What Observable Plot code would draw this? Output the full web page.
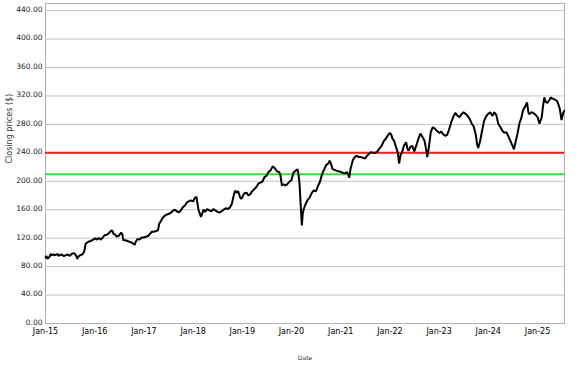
<!DOCTYPE html>
<html>
<head>
<meta charset="utf-8">
<script src="https://cdn.jsdelivr.net/npm/d3@7"></script>
<script src="https://cdn.jsdelivr.net/npm/@observablehq/plot@0.6"></script>
<style>
  html, body { margin: 0; padding: 0; background: #fff; }
  #chart { width: 577px; height: 367px; }
</style>
</head>
<body>
<div id="chart"></div>
<script>
// Closing price series (dates and values)
const dates = [
  "2015-01-02","2015-01-09","2015-01-15","2015-02-01","2015-02-08","2015-02-15","2015-03-01","2015-03-15","2015-04-01","2015-04-08","2015-04-15","2015-05-01","2015-05-15","2015-06-01","2015-06-15","2015-07-01","2015-07-15","2015-08-01","2015-08-15","2015-08-25","2015-09-01","2015-09-15","2015-10-01","2015-10-15","2015-10-26","2015-11-01","2015-11-15","2015-12-01","2015-12-15",
  "2016-01-04","2016-01-15","2016-02-01","2016-02-15","2016-03-01","2016-03-15","2016-04-01","2016-04-15","2016-05-01","2016-05-10","2016-05-20","2016-06-01","2016-06-15","2016-07-01","2016-07-15","2016-07-25","2016-08-01","2016-08-15","2016-09-01","2016-09-15","2016-10-01","2016-10-15","2016-10-25","2016-11-01","2016-11-15","2016-12-01","2016-12-15",
  "2017-01-03","2017-01-15","2017-02-01","2017-02-15","2017-03-01","2017-03-15","2017-04-01","2017-04-15","2017-04-25","2017-05-01","2017-05-15","2017-06-01","2017-06-15","2017-07-01","2017-07-15","2017-08-01","2017-08-15","2017-09-01","2017-09-15","2017-10-01","2017-10-15","2017-11-01","2017-11-15","2017-12-01","2017-12-15",
  "2018-01-02","2018-01-15","2018-01-26","2018-02-05","2018-02-10","2018-02-28","2018-03-10","2018-03-20","2018-04-01","2018-04-15","2018-05-01","2018-05-15","2018-06-01","2018-06-15","2018-07-01","2018-07-15","2018-08-01","2018-08-15","2018-09-01","2018-09-15","2018-10-01","2018-10-15","2018-11-01","2018-11-10","2018-11-20","2018-12-01","2018-12-15","2018-12-24",
  "2019-01-02","2019-01-15","2019-02-01","2019-02-15","2019-03-01","2019-03-15","2019-04-01","2019-04-15","2019-05-01","2019-05-15","2019-06-01","2019-06-15","2019-07-01","2019-07-15","2019-08-01","2019-08-15","2019-09-01","2019-09-15","2019-10-01","2019-10-10","2019-10-22","2019-11-01","2019-11-15","2019-12-01","2019-12-15",
  "2020-01-02","2020-01-15","2020-02-01","2020-02-15","2020-02-22","2020-03-01","2020-03-10","2020-03-18","2020-03-25","2020-04-01","2020-04-15","2020-05-01","2020-05-15","2020-06-01","2020-06-15","2020-07-01","2020-07-15","2020-08-01","2020-08-15","2020-09-01","2020-09-15","2020-10-01","2020-10-10","2020-10-20","2020-11-01","2020-11-15","2020-12-01","2020-12-15",
  "2021-01-04","2021-01-15","2021-02-01","2021-02-15","2021-03-01","2021-03-05","2021-03-15","2021-04-01","2021-04-15","2021-05-01","2021-05-15","2021-06-01","2021-06-15","2021-07-01","2021-07-15","2021-08-01","2021-08-15","2021-09-01","2021-09-15","2021-10-01","2021-10-15","2021-11-01","2021-11-15","2021-12-01","2021-12-15","2021-12-31",
  "2022-01-10","2022-01-20","2022-02-01","2022-02-15","2022-03-01","2022-03-10","2022-03-20","2022-04-01","2022-04-15","2022-05-01","2022-05-12","2022-05-20","2022-06-01","2022-06-15","2022-07-01","2022-07-15","2022-08-01","2022-08-15","2022-09-01","2022-09-15","2022-10-01","2022-10-05","2022-10-15","2022-11-01","2022-11-15","2022-12-01","2022-12-15",
  "2023-01-03","2023-01-15","2023-02-01","2023-02-15","2023-03-01","2023-03-15","2023-04-01","2023-04-15","2023-05-01","2023-05-15","2023-06-01","2023-06-15","2023-07-01","2023-07-15","2023-08-01","2023-08-15","2023-09-01","2023-09-15","2023-10-01","2023-10-10","2023-10-18","2023-11-01","2023-11-15","2023-12-01","2023-12-15",
  "2024-01-02","2024-01-15","2024-02-01","2024-02-15","2024-03-01","2024-03-15","2024-04-01","2024-04-15","2024-05-01","2024-05-15","2024-06-01","2024-06-15","2024-07-01","2024-07-10","2024-07-25","2024-08-05","2024-08-20","2024-09-01","2024-09-15","2024-10-01","2024-10-15","2024-10-25","2024-11-01","2024-11-15","2024-12-01","2024-12-15",
  "2025-01-02","2025-01-15","2025-02-01","2025-02-10","2025-02-20","2025-03-01","2025-03-15","2025-04-01","2025-04-10","2025-04-20","2025-05-01","2025-05-15","2025-05-25","2025-06-05","2025-06-15","2025-06-28","2025-07-10","2025-07-18"
];
const closes = [
  93,95,91,94,98,96,97,96,98,95,96,97,95,96,97,95,98,99,96,91,94,96,97,101,112,113,115,116,117,
  120,118,120,118,121,124,125,127,130,131,126,125,122,124,128,125,117,117,116,115,114,112,111,115,119,118,121,
  121,122,123,126,129,129,130,131,141,142,147,151,153,154,155,158,160,158,156,159,163,166,170,172,173,
  172,177,178,165,160,150,155,160,157,161,159,158,161,159,157,156,158,160,162,161,163,168,182,187,184,186,178,175,
  178,183,184,180,182,186,189,192,197,198,200,206,208,213,216,221,218,214,213,210,194,196,194,196,199,
  202,212,215,217,210,196,165,138,155,161,168,174,177,184,187,186,193,200,210,217,223,225,229,225,217,216,215,214,
  213,212,211,213,208,205,218,230,234,236,234,234,233,232,236,239,241,240,240,242,246,250,256,260,264,268,
  266,260,257,248,240,225,236,241,250,255,245,243,248,250,242,250,260,267,262,257,240,234,245,270,276,274,271,
  268,270,266,264,265,272,283,290,296,293,290,294,297,295,292,288,281,277,265,252,247,256,270,285,291,
  295,297,292,297,293,281,276,271,268,269,262,256,249,245,258,267,282,288,300,305,311,297,294,297,296,294,
  290,281,290,305,318,312,310,315,318,316,316,314,313,308,302,286,296,299
];
// Reference levels
const redLevel = 240;
const greenLevel = 210;
// Axis ticks
const yTicks = [0, 40, 80, 120, 160, 200, 240, 280, 320, 360, 400, 440];
const xTickYears = ["2015","2016","2017","2018","2019","2020","2021","2022","2023","2024","2025"];
const yLabel = "Closing prices ($)";
const xLabel = "Date";

const n = Math.min(dates.length, closes.length);
const data = d3.range(n).map(i => ({date: new Date(dates[i] + "T00:00:00Z"), close: closes[i]}));
const xTicks = xTickYears.map(y => new Date(y + "-01-01T00:00:00Z"));

const chart = Plot.plot({
  width: 577,
  height: 367,
  marginLeft: 45,
  marginRight: 13,
  marginTop: 3,
  marginBottom: 44,
  style: {fontFamily: "'DejaVu Sans', sans-serif", fontSize: "8px", background: "#fff", color: "#000"},
  x: {type: "utc", domain: [new Date("2015-01-01T00:00:00Z"), new Date("2025-07-20T00:00:00Z")]},
  y: {domain: [0, 450]},
  marks: [
    Plot.gridY(yTicks, {stroke: "#c4c4c4", strokeOpacity: 1}),
    Plot.frame({stroke: "#b0b0b0"}),
    Plot.ruleY([redLevel], {stroke: "#ee1c1c", strokeWidth: 2}),
    Plot.ruleY([greenLevel], {stroke: "#3bdc3b", strokeWidth: 2}),
    Plot.line(data, {x: "date", y: "close", stroke: "#000", strokeWidth: 2, strokeLinejoin: "miter"}),
    Plot.axisY(yTicks, {tickFormat: d => d.toFixed(2), tickSize: 0, tickPadding: 3, label: null, fontSize: 7.5, fill: "#222", dy: -1}),
    Plot.axisX(xTicks, {tickFormat: d3.utcFormat("%b-%y"), tickSize: 0, tickPadding: 5, label: null, fontSize: 8, fill: "#000"}),
    Plot.text([yLabel], {frameAnchor: "left", dx: -36, rotate: -90, fontSize: 8, fill: "#333"}),
    Plot.text([xLabel], {frameAnchor: "bottom", dy: 36, fontSize: 6, fill: "#333"})
  ]
});
document.getElementById("chart").appendChild(chart);
</script>
</body>
</html>
